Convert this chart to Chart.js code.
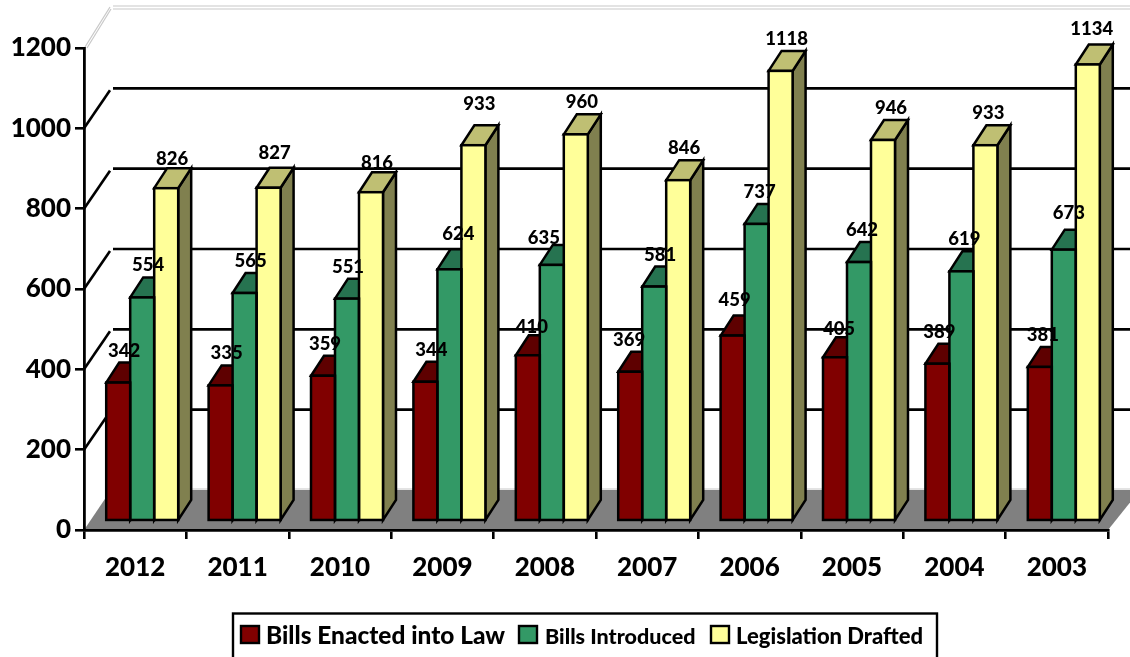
<!DOCTYPE html>
<html>
<head>
<meta charset="utf-8">
<title>Legislation by year</title>
<script src="https://cdn.jsdelivr.net/npm/chart.js@4/dist/chart.umd.min.js"></script>
<style>
  html, body { margin: 0; padding: 0; background: #fff; overflow: hidden; }
  canvas { display: block; }
</style>
</head>
<body>
<canvas id="chart" width="1130" height="657"></canvas>
<script>
const years = ['2012', '2011', '2010', '2009', '2008', '2007', '2006', '2005', '2004', '2003'];
const enacted = [342, 335, 359, 344, 410, 369, 459, 405, 389, 381];
const introduced = [554, 565, 551, 624, 635, 581, 737, 642, 619, 673];
const drafted = [826, 827, 816, 933, 960, 846, 1118, 946, 933, 1134];
const yTicks = [0, 200, 400, 600, 800, 1000, 1200];

const FONT = 'Lato, Carlito, sans-serif';

// fake 3D: how far the back wall sits from the axes, and the depth of a bar
const WALL_DX = 27, WALL_DY = 40;
const BAR_DX = 13, BAR_DY = 20, BAR_SHIFT = 7;

// labels the original had dragged away from their usual spot: [dataset, category, dx, dy]
const labelNudges = [
  [0, 2, -4, 0], [0, 4, -2, 4], [0, 5, -7, 0], [0, 6, -4, -4], [0, 7, -2, 4], [0, 8, -4, 0], [0, 9, -3, 0],
  [1, 2, -5, 0], [1, 3, 3, -3], [1, 4, -14, 5], [1, 6, -3, 0], [1, 7, -3, 0], [1, 8, -3, 0], [1, 9, -1, -5],
  [2, 0, 0, 3], [2, 1, 0, -3], [2, 2, 0, 3], [2, 3, 0, -9], [2, 7, 2, 0], [2, 8, -3, 0], [2, 9, -2, -3],
];

const faces = [
  { top: '#5e0000', side: '#4d0000' },
  { top: '#267350', side: '#1f5c40' },
  { top: '#bfbf73', side: '#80804f' },
];

function line(ctx, x1, y1, x2, y2) {
  ctx.beginPath();
  ctx.moveTo(x1, y1);
  ctx.lineTo(x2, y2);
  ctx.stroke();
}

function poly(ctx, pts, fill) {
  ctx.beginPath();
  pts.forEach((p, i) => (i ? ctx.lineTo(p[0], p[1]) : ctx.moveTo(p[0], p[1])));
  ctx.closePath();
  ctx.fillStyle = fill;
  ctx.fill();
  ctx.stroke();
}

const depthPlugin = {
  id: 'depth',
  // floor and back wall go under the axes
  beforeDraw(chart) {
    const { ctx, chartArea: a, scales } = chart;
    const y = scales.y;
    const backRight = chart.width + 10;
    ctx.save();

    ctx.fillStyle = '#808080';
    ctx.beginPath();
    ctx.moveTo(a.left, a.bottom);
    ctx.lineTo(a.left + WALL_DX, a.bottom - WALL_DY);
    ctx.lineTo(backRight, a.bottom - WALL_DY);
    ctx.lineTo(a.right, a.bottom);
    ctx.closePath();
    ctx.fill();

    ctx.strokeStyle = '#c8c8c8';
    ctx.lineWidth = 1.2;
    line(ctx, a.left + WALL_DX, a.bottom - WALL_DY - 1, backRight, a.bottom - WALL_DY - 1);

    yTicks.forEach(v => {
      if (v === 0) return;
      const py = y.getPixelForValue(v);
      if (v === 1200) {
        ctx.strokeStyle = '#c8c8c8';
        ctx.lineWidth = 1.2;
        line(ctx, a.left + 1, py - 1, a.left + WALL_DX - 1, py - WALL_DY - 1);
        line(ctx, a.left + 3, py, a.left + WALL_DX, py - WALL_DY + 1);
        line(ctx, a.left + WALL_DX + 2, py - WALL_DY - 2, backRight, py - WALL_DY - 2);
        line(ctx, a.left + WALL_DX + 2, py - WALL_DY + 1, backRight, py - WALL_DY + 1);
      } else {
        ctx.strokeStyle = '#000';
        ctx.lineWidth = 2.6;
        line(ctx, a.left, py, a.left + WALL_DX - 1, py - WALL_DY + 2);
        line(ctx, a.left + WALL_DX + 2, py - WALL_DY, backRight, py - WALL_DY);
      }
    });
    ctx.restore();
  },
  afterDatasetsUpdate(chart) {
    chart.data.datasets.forEach((ds, i) => {
      chart.getDatasetMeta(i).data.forEach(bar => { bar.x += BAR_SHIFT; });
    });
  },
  // top and side faces, the fronts are painted over them by the chart
  beforeDatasetsDraw(chart) {
    const { ctx } = chart;
    ctx.save();
    ctx.strokeStyle = '#000';
    ctx.lineWidth = 2.5;
    ctx.lineJoin = 'miter';
    chart.data.datasets.forEach((ds, i) => {
      chart.getDatasetMeta(i).data.forEach(bar => {
        const r = bar.x + bar.width / 2, l = bar.x - bar.width / 2;
        poly(ctx, [[r, bar.y], [r + BAR_DX, bar.y - BAR_DY], [r + BAR_DX, bar.base - BAR_DY], [r, bar.base]], faces[i].side);
        poly(ctx, [[l, bar.y], [l + BAR_DX, bar.y - BAR_DY], [r + BAR_DX, bar.y - BAR_DY], [r, bar.y]], faces[i].top);
      });
    });
    ctx.restore();
  },
  afterDatasetsDraw(chart) {
    const { ctx } = chart;
    ctx.save();
    ctx.strokeStyle = '#000';
    ctx.lineWidth = 2.5;
    chart.data.datasets.forEach((ds, i) => {
      chart.getDatasetMeta(i).data.forEach(bar => {
        ctx.strokeRect(bar.x - bar.width / 2, bar.y, bar.width, bar.base - bar.y);
      });
    });

    ctx.fillStyle = '#000';
    ctx.font = '900 18.5px ' + FONT;
    ctx.textAlign = 'center';
    ctx.textBaseline = 'middle';
    chart.data.datasets.forEach((ds, i) => {
      chart.getDatasetMeta(i).data.forEach((bar, j) => {
        const n = labelNudges.find(k => k[0] === i && k[1] === j) || [0, 0, 0, 0];
        ctx.fillText(String(ds.data[j]), bar.x + 6 + n[2], bar.y - 32 + n[3]);
      });
    });
    ctx.restore();
  },
  // legend has different text widths per entry, so the built in one can't do it
  afterDraw(chart) {
    const { ctx } = chart;
    const entries = [
      { swatch: 241, text: 266, width: 239, size: 24.5 },
      { swatch: 519, text: 545, width: 154, size: 21.5 },
      { swatch: 711, text: 736, width: 187, size: 22 },
    ];
    ctx.save();
    ctx.strokeStyle = '#000';
    ctx.lineWidth = 2.4;
    ctx.strokeRect(233, 613.5, 704, 60);
    ctx.textBaseline = 'alphabetic';
    ctx.textAlign = 'left';
    chart.data.datasets.forEach((ds, i) => {
      const e = entries[i];
      ctx.fillStyle = ds.backgroundColor;
      ctx.fillRect(e.swatch, 626, 18, 17);
      ctx.strokeRect(e.swatch, 626, 18, 17);
      ctx.fillStyle = '#000';
      ctx.font = '900 ' + e.size + 'px ' + FONT;
      ctx.fillText(ds.label, e.text, 644, e.width);
    });
    ctx.restore();
  },
};

new Chart(document.getElementById('chart').getContext('2d'), {
  type: 'bar',
  data: {
    labels: years,
    datasets: [
      { label: 'Bills Enacted into Law', data: enacted, backgroundColor: '#800000' },
      { label: 'Bills Introduced', data: introduced, backgroundColor: '#339966' },
      { label: 'Legislation Drafted', data: drafted, backgroundColor: '#ffff99' },
    ].map(ds => ({ ...ds, yAxisID: 'yBars', borderWidth: 0, categoryPercentage: 0.703, barPercentage: 1 })),
  },
  plugins: [depthPlugin],
  options: {
    responsive: false,
    animation: false,
    layout: { padding: { left: 0, right: 22, top: 48, bottom: 0 } },
    plugins: {
      legend: { display: false },
      tooltip: { enabled: false },
    },
    scales: {
      x: {
        afterFit(scale) { scale.height = 127; },
        grid: { offset: true, drawOnChartArea: false, color: '#000', lineWidth: 2.6, tickLength: 9 },
        border: { color: '#000', width: 2.8 },
        ticks: { color: '#000', font: { family: FONT, weight: '900', size: 26 }, padding: 13, maxRotation: 0 },
      },
      y: {
        min: 0,
        max: 1200,
        afterFit(scale) { scale.width = 84; },
        afterBuildTicks(scale) { scale.ticks = yTicks.map(value => ({ value })); },
        grid: { drawOnChartArea: false, color: '#000', lineWidth: 2.6, tickLength: 9 },
        border: { color: '#000', width: 2.8 },
        ticks: { color: '#000', font: { family: FONT, weight: '900', size: 26 }, padding: 4, callback: v => String(v) },
      },
      // same height as y, but zero sits on the middle of the floor where the bars stand
      yBars: { display: false, min: -25, max: 1175 },
    },
  },
});
</script>
</body>
</html>
